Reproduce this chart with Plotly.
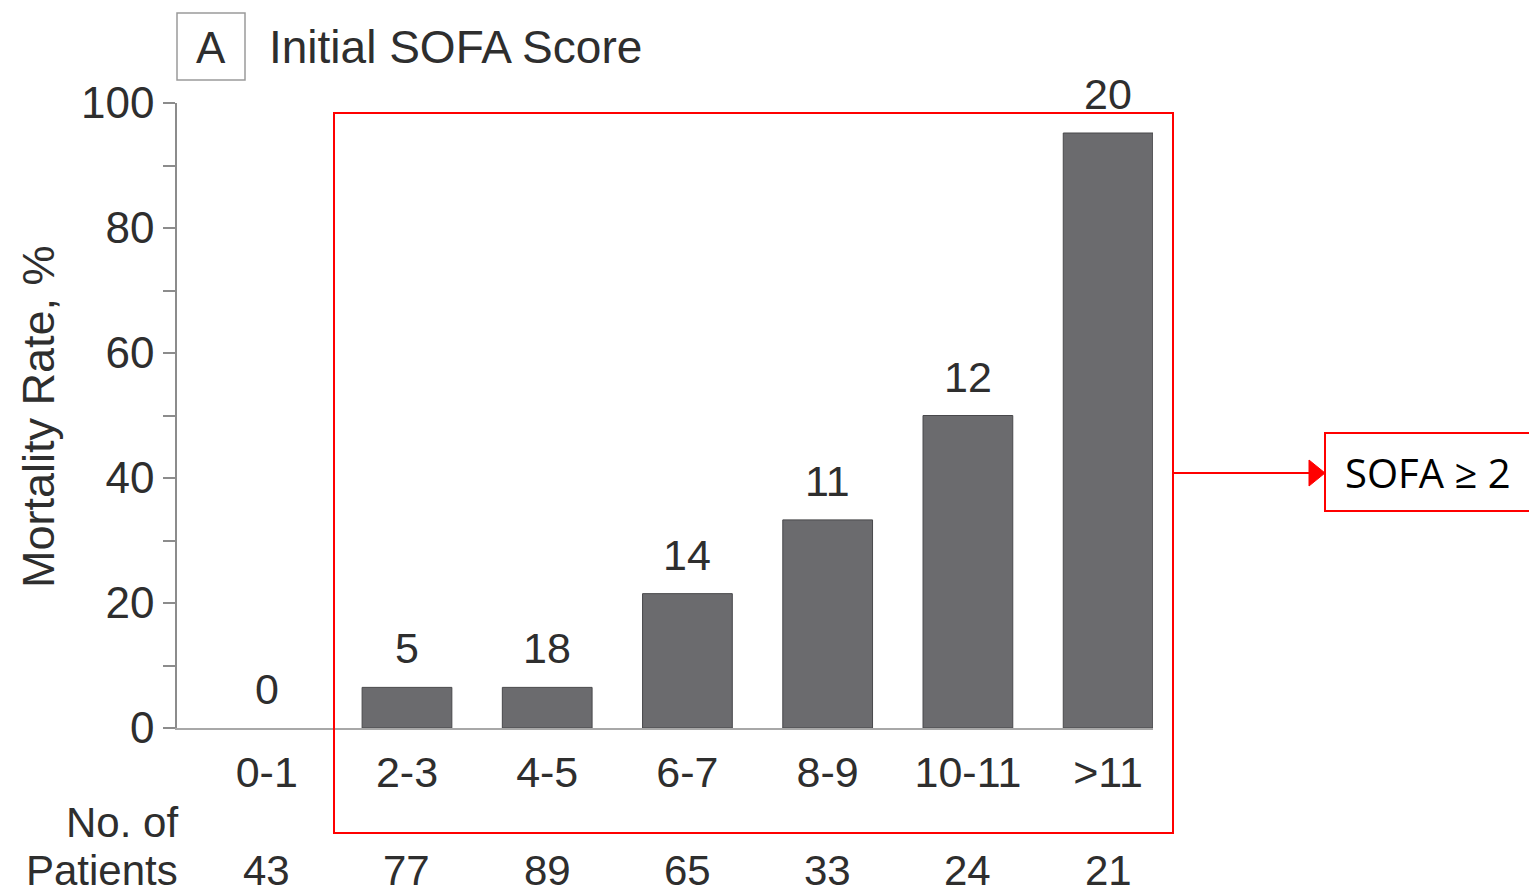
import plotly.graph_objects as go

# SOFA score bands and outcome data
categories = ["0-1", "2-3", "4-5", "6-7", "8-9", "10-11", ">11"]
mortality_pct = [0, 6.5, 6.5, 21.5, 33.3, 50.0, 95.2]
deaths = [0, 5, 18, 14, 11, 12, 20]
patients = [43, 77, 89, 65, 33, 24, 21]

y_tick_vals = list(range(0, 101, 10))
y_tick_text = [str(v) if v % 20 == 0 else "" for v in y_tick_vals]

FONT = "Liberation Sans, Arial, sans-serif"
TXT = "#2e2e2e"
RED = "#ff0000"

# plot-area geometry in pixels (used to place paper-referenced decorations)
W, H = 1529, 893
L, R, T, B = 177, 376, 103, 165
PW, PH = W - L - R, H - T - B


def px(x):
    return (x - L) / PW


def py(y):
    return (H - B - y) / PH


def label(x, y, text, size=43, xanchor="center", **kw):
    return dict(x=x, y=y, xref="paper", yref="paper", text=text, showarrow=False,
                xanchor=xanchor, yanchor="middle",
                font=dict(family=kw.pop("family", FONT), size=size,
                          color=kw.pop("color", TXT)), **kw)


fig = go.Figure()
fig.add_trace(go.Bar(
    x=categories,
    y=mortality_pct,
    marker=dict(color="#6b6b6e",
                line=dict(color="#48484b",
                          width=[0 if v == 0 else 1 for v in mortality_pct])),
    hoverinfo="skip",
))

annotations = []
# death counts above each bar
for c, v, d in zip(categories, mortality_pct, deaths):
    annotations.append(dict(
        x=c, y=v, xref="x", yref="y", text=str(d), showarrow=False,
        xanchor="center", yanchor="bottom", yshift=13,
        font=dict(family=FONT, size=43, color=TXT),
    ))
# number of patients row
ROW_Y = 870
for c, n in zip(categories, patients):
    annotations.append(dict(
        x=c, y=py(ROW_Y), xref="x", yref="paper", text=str(n), showarrow=False,
        xanchor="center", yanchor="middle",
        font=dict(family=FONT, size=42, color=TXT),
    ))
annotations += [
    label(px(180), py(822), "No. of", size=42, xanchor="right"),
    label(px(180), py(ROW_Y), "Patients", size=42, xanchor="right"),
    label(px(38), py(417), "Mortality Rate, %", size=45, textangle=-90),
    label(px(211), py(47), "A", size=44),
    label(px(267), py(47), "Initial SOFA Score", size=46, xanchor="left"),
    label(px(1428), py(472), "SOFA ≥ 2", size=40,
          family="Open Sans, Noto Sans, sans-serif", color="#000000"),
]

# arrow head (triangle) for the callout connector
tip_x, tip_y = px(1325), py(473)
hx0, hy_top, hy_bot = px(1309), py(460), py(486)
arrow_path = f"M {tip_x} {tip_y} L {hx0} {hy_top} L {hx0} {hy_bot} Z"

shapes = [
    # panel letter frame
    dict(type="rect", xref="paper", yref="paper", x0=px(177), x1=px(245),
         y0=py(80), y1=py(13), line=dict(color="#9a9a9a", width=1.5)),
    # highlight frame around SOFA >= 2 groups
    dict(type="rect", xref="paper", yref="paper", x0=px(334), x1=px(1173),
         y0=py(833), y1=py(113), line=dict(color=RED, width=2)),
    # connector line and arrow head
    dict(type="line", xref="paper", yref="paper", x0=px(1173), x1=px(1311),
         y0=py(473), y1=py(473), line=dict(color=RED, width=2)),
    dict(type="path", xref="paper", yref="paper", path=arrow_path,
         fillcolor=RED, line=dict(color=RED, width=1)),
    # callout box
    dict(type="rect", xref="paper", yref="paper", x0=px(1325), x1=px(1545),
         y0=py(511), y1=py(433), line=dict(color=RED, width=2)),
]

fig.update_layout(
    width=W, height=H,
    margin=dict(l=L, r=R, t=T, b=B),
    paper_bgcolor="white", plot_bgcolor="white",
    showlegend=False, bargap=0.36,
    annotations=annotations, shapes=shapes,
    xaxis=dict(
        type="category", range=[-0.64, 6.32],
        showline=True, linecolor="#a8a8a8", linewidth=2,
        ticks="", showgrid=False, zeroline=False,
        tickfont=dict(family=FONT, size=43, color=TXT),
        ticklabelstandoff=5,
    ),
    yaxis=dict(
        range=[0, 100], tickvals=y_tick_vals, ticktext=y_tick_text,
        ticks="outside", ticklen=12, tickwidth=1.5, tickcolor="#8c8c8c",
        showline=True, linecolor="#8c8c8c", linewidth=1.5,
        showgrid=False, zeroline=False,
        tickfont=dict(family=FONT, size=44, color=TXT),
        ticklabelstandoff=0,
    ),
)

fig.write_html("out.html")
